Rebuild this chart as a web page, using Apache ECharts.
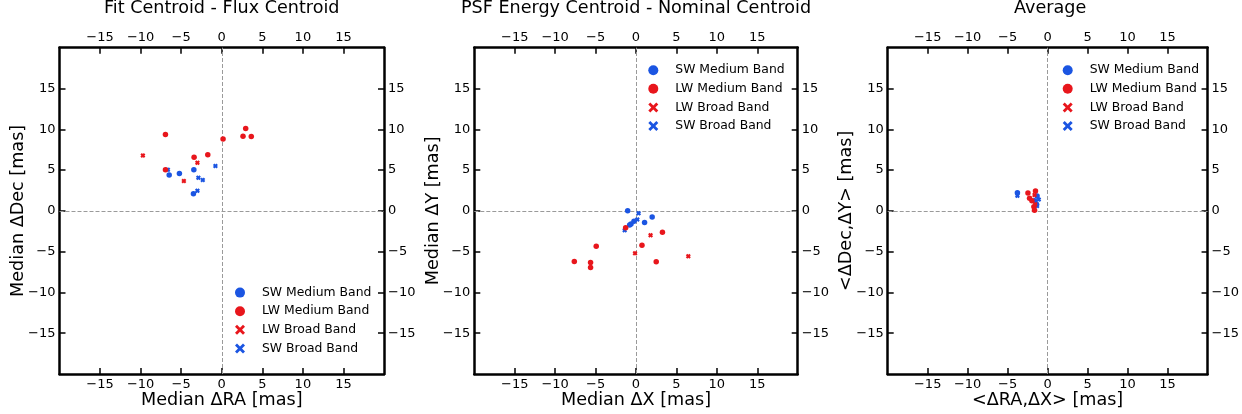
<!DOCTYPE html>
<html>
<head>
<meta charset="utf-8">
<script src="https://cdn.jsdelivr.net/npm/echarts@6/dist/echarts.min.js"></script>
<style>html,body{margin:0;padding:0;background:#fff}#c{width:1242px;height:414px}</style>
</head>
<body>
<div id="c"></div>
<script>
// ---- data ----
const tickValues = [-15, -10, -5, 0, 5, 10, 15];
const panelTitles = ['Fit Centroid - Flux Centroid', 'PSF Energy Centroid - Nominal Centroid', 'Average'];
const xNames = ['Median ΔRA [mas]', 'Median ΔX [mas]', '<ΔRA,ΔX> [mas]'];
const yNames = ['Median ΔDec [mas]', 'Median ΔY [mas]', '<ΔDec,ΔY> [mas]'];
const seriesNames = ['SW Medium Band', 'LW Medium Band', 'LW Broad Band', 'SW Broad Band'];

// Panel 1: Fit Centroid - Flux Centroid
const swMedium1 = [[-6.48,4.39],[-5.22,4.59],[-3.44,5.04],[-3.49,2.09]];
const lwMedium1 = [[-6.94,9.35],[-3.41,6.56],[-1.72,6.89],[-6.94,5.04],[0.16,8.8],[2.95,10.09],[2.62,9.14],[3.64,9.1]];
const lwBroad1  = [[-9.72,6.8],[-3.0,5.9],[-4.67,3.65]];
const swBroad1  = [[-6.64,5.04],[-2.88,4.06],[-2.34,3.77],[-0.78,5.5],[-3.0,2.46]];

// Panel 2: PSF Energy Centroid - Nominal Centroid
const swMedium2 = [[-1.03,0.0],[2.0,-0.74],[-0.25,-1.28],[-0.62,-1.6],[-0.79,-1.72],[1.06,-1.44]];
const lwMedium2 = [[-1.28,-2.06],[3.27,-2.63],[-4.92,-4.35],[0.74,-4.22],[-7.63,-6.2],[-5.62,-6.32],[-5.62,-6.93],[2.5,-6.23]];
const lwBroad2  = [[1.8,-3.0],[-0.12,-5.2],[6.47,-5.57]];
const swBroad2  = [[0.32,-0.29],[0.16,-1.07],[-1.4,-2.39]];

// Panel 3: Average
const swMedium3 = [[-3.78,2.22],[-1.32,1.81],[-1.39,0.82],[-1.64,1.23]];
const lwMedium3 = [[-2.46,2.2],[-1.52,2.42],[-2.26,1.53],[-1.72,0.49],[-1.64,0.08],[-1.97,1.23]];
const lwBroad3  = [[-1.64,1.93],[-1.56,0.82]];
const swBroad3  = [[-3.78,1.85],[-1.11,1.4],[-1.32,0.58]];

const panelData = [
  [swMedium1, lwMedium1, lwBroad1, swBroad1],
  [swMedium2, lwMedium2, lwBroad2, swBroad2],
  [swMedium3, lwMedium3, lwBroad3, swBroad3]
];

// ---- style / layout ----
const BLUE = '#1b55e2', RED = '#e8161c';
const seriesColors = [BLUE, RED, RED, BLUE];
const X_ICON = 'path://M2,0 L5,3 L8,0 L10,2 L7,5 L10,8 L8,10 L5,7 L2,10 L0,8 L3,5 L0,2 Z';
const X_FAT = 'path://M3,0 L5,2 L7,0 L10,3 L8,5 L10,7 L7,10 L5,8 L3,10 L0,7 L2,5 L0,3 Z';
const plotSymbols = ['circle', 'circle', X_FAT, X_FAT];
const legendIcons = ['circle', 'circle', X_ICON, X_ICON];
const drawOrder = [3, 0, 1, 2];
const FONT = 'DejaVu Sans';
const grids = [
  {left: 59.5, top: 47.7, width: 324.5, height: 326.3},
  {left: 474.3, top: 47.7, width: 323.4, height: 326.3},
  {left: 887.7, top: 47.7, width: 325, height: 326.3}
];
const legendPos = [{left: 235, top: 286.6}, {left: 648.3, top: 64.2}, {left: 1062.7, top: 64.2}];

const fmt = v => String(v).replace('-', '\u2212');
function axis(gi, pos, name, nameGap) {
  const a = {
    gridIndex: gi, type: 'value', min: -20, max: 20, interval: 5, position: pos,
    axisLine: {show: true, onZero: false, lineStyle: {color: '#000', width: 2.5}},
    axisTick: {show: true, inside: true, length: 6, customValues: tickValues, lineStyle: {color: '#000', width: 1.5}},
    axisLabel: {show: true, customValues: tickValues, formatter: fmt, margin: 4, fontSize: 13, color: '#000', fontFamily: FONT},
    splitLine: {show: false}
  };
  if (name) {
    a.name = name; a.nameLocation = 'middle'; a.nameGap = nameGap; a.nameMoveOverlap = false;
    a.nameTextStyle = {fontSize: 17.6, color: '#000', fontFamily: FONT};
  }
  return a;
}

const xAxes = [], yAxes = [], series = [], titles = [], legends = [];
grids.forEach((g, i) => {
  xAxes.push(axis(i, 'bottom', xNames[i], 17));
  xAxes.push(axis(i, 'top', null));
  yAxes.push(axis(i, 'left', yNames[i], 32));
  yAxes.push(axis(i, 'right', null));
  titles.push({text: panelTitles[i], left: g.left + g.width / 2, top: -0.5, textAlign: 'center', padding: 0,
    textStyle: {fontSize: 17.6, fontWeight: 'normal', color: '#000', fontFamily: FONT}});
  legends.push({
    orient: 'vertical', left: legendPos[i].left, top: legendPos[i].top, padding: 0,
    itemWidth: 10, itemHeight: 10, itemGap: 6.6, selectedMode: false,
    textStyle: {fontSize: 12.4, color: '#000', fontFamily: FONT, padding: [0, 0, 0, 12]},
    data: seriesNames.map((n, k) => ({name: n, icon: legendIcons[k]}))
  });
  drawOrder.forEach((k, j) => {
    const s = {
      type: 'scatter', name: seriesNames[k], xAxisIndex: 2 * i, yAxisIndex: 2 * i,
      data: panelData[i][k], symbol: plotSymbols[k], symbolSize: k < 2 ? 5.5 : 5,
      itemStyle: {color: seriesColors[k], opacity: 1}, z: 3 + j, animation: false
    };
    if (j === 0) {
      s.markLine = {
        silent: true, symbol: ['none', 'none'], label: {show: false}, animation: false, z: 1,
        lineStyle: {type: [4, 2], color: '#9a9a9a', width: 1},
        emphasis: {disabled: true},
        data: [{xAxis: 0}, {yAxis: 0}]
      };
    }
    series.push(s);
  });
});

const chart = echarts.init(document.getElementById('c'));
chart.setOption({
  backgroundColor: '#fff',
  animation: false,
  title: titles,
  legend: legends,
  grid: grids,
  xAxis: xAxes,
  yAxis: yAxes,
  series: series
});
</script>
</body>
</html>
